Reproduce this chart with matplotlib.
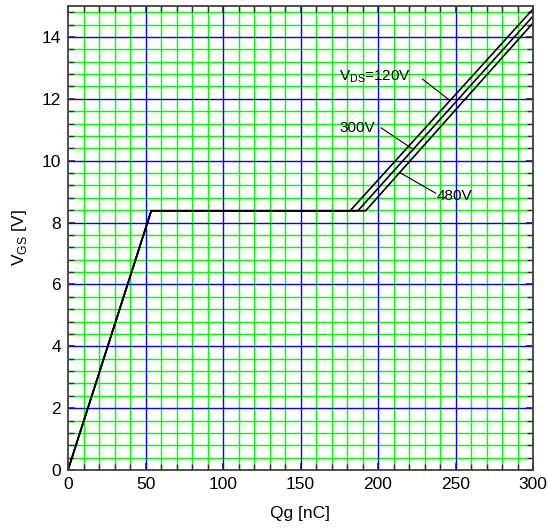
import matplotlib
matplotlib.use("Agg")
import matplotlib.pyplot as plt
import numpy as np

plt.rcParams['font.family'] = ['Liberation Sans', 'DejaVu Sans']

# Data
vds_labels = ['V$_{\\mathregular{DS}}$=120V', '300V', '480V']
q_knee = 53.7          # nC, end of first rise
vgs_plateau = 8.38     # V, Miller plateau
q_plateau_end = [182.0, 187.0, 192.0]
q_end = [300.0, 300.0, 300.0]
vgs_end = [14.9, 14.67, 14.45]

# annotation positions (text, leader start/end)
label_xy = [(175, 12.7), (175, 11.05), (238, 8.85)]
leader_start = [(228.6, 12.64), (202, 11.06), (214.6, 9.6)]
leader_end = [(245.8, 11.97), (223.2, 10.35), (237.2, 8.95)]

fig = plt.figure(figsize=(5.48, 5.30), dpi=100)
ax = fig.add_axes([68/548, 1-470/530, (533-68)/548, (470-6)/530])

ax.set_xlim(0, 300)
ax.set_ylim(0, 15)

# grid lines
for x in np.arange(10, 300, 10):
    if x % 50 == 0:
        continue
    ax.axvline(x, color='#00ff00', lw=1.05, zorder=1)
for i, y in enumerate(np.arange(0.4, 15.0, 0.4)):
    if abs(y / 2 - round(y / 2)) < 1e-6:
        continue
    ax.axhline(y, color='#00ff00', lw=1.05, zorder=1)
for x in range(50, 300, 50):
    ax.axvline(x, color='#0000ff', lw=1.0, zorder=2)
for y in range(2, 15, 2):
    ax.axhline(y, color='#0000ff', lw=1.0, zorder=2)

# curves
for qp, qe, ve in zip(q_plateau_end, q_end, vgs_end):
    ax.plot([0, q_knee, qp, qe], [0, vgs_plateau, vgs_plateau, ve],
            color='black', lw=1.2, zorder=4, solid_joinstyle='miter')

# annotations
for lab, (tx, ty), (sx, sy), (ex, ey) in zip(vds_labels, label_xy, leader_start, leader_end):
    ax.text(tx, ty, lab, fontsize=11, va='center', ha='left', zorder=5)
    ax.plot([sx, ex], [sy, ey], color='black', lw=0.8, zorder=5)

ax.set_xticks(np.arange(0, 301, 50))
ax.set_yticks(np.arange(0, 15, 2))
ax.set_xticks(np.arange(0, 301, 10), minor=True)
ax.set_yticks(np.arange(0, 15.01, 0.4), minor=True)
ax.tick_params(which='both', direction='in', top=True, right=True,
               color='#303030', labelsize=12.5)
ax.tick_params(which='major', length=5, width=1.2, pad=5)
ax.tick_params(which='minor', length=4, width=1.0)
for s in ax.spines.values():
    s.set_color('#404040')
    s.set_linewidth(1.3)
    s.set_zorder(6)

ax.set_xlabel('Qg [nC]', fontsize=12.5, labelpad=10)
ax.set_ylabel('V$_{\\mathregular{GS}}$ [V]', fontsize=12.5, labelpad=9)

fig.savefig('out.png', dpi=100)
